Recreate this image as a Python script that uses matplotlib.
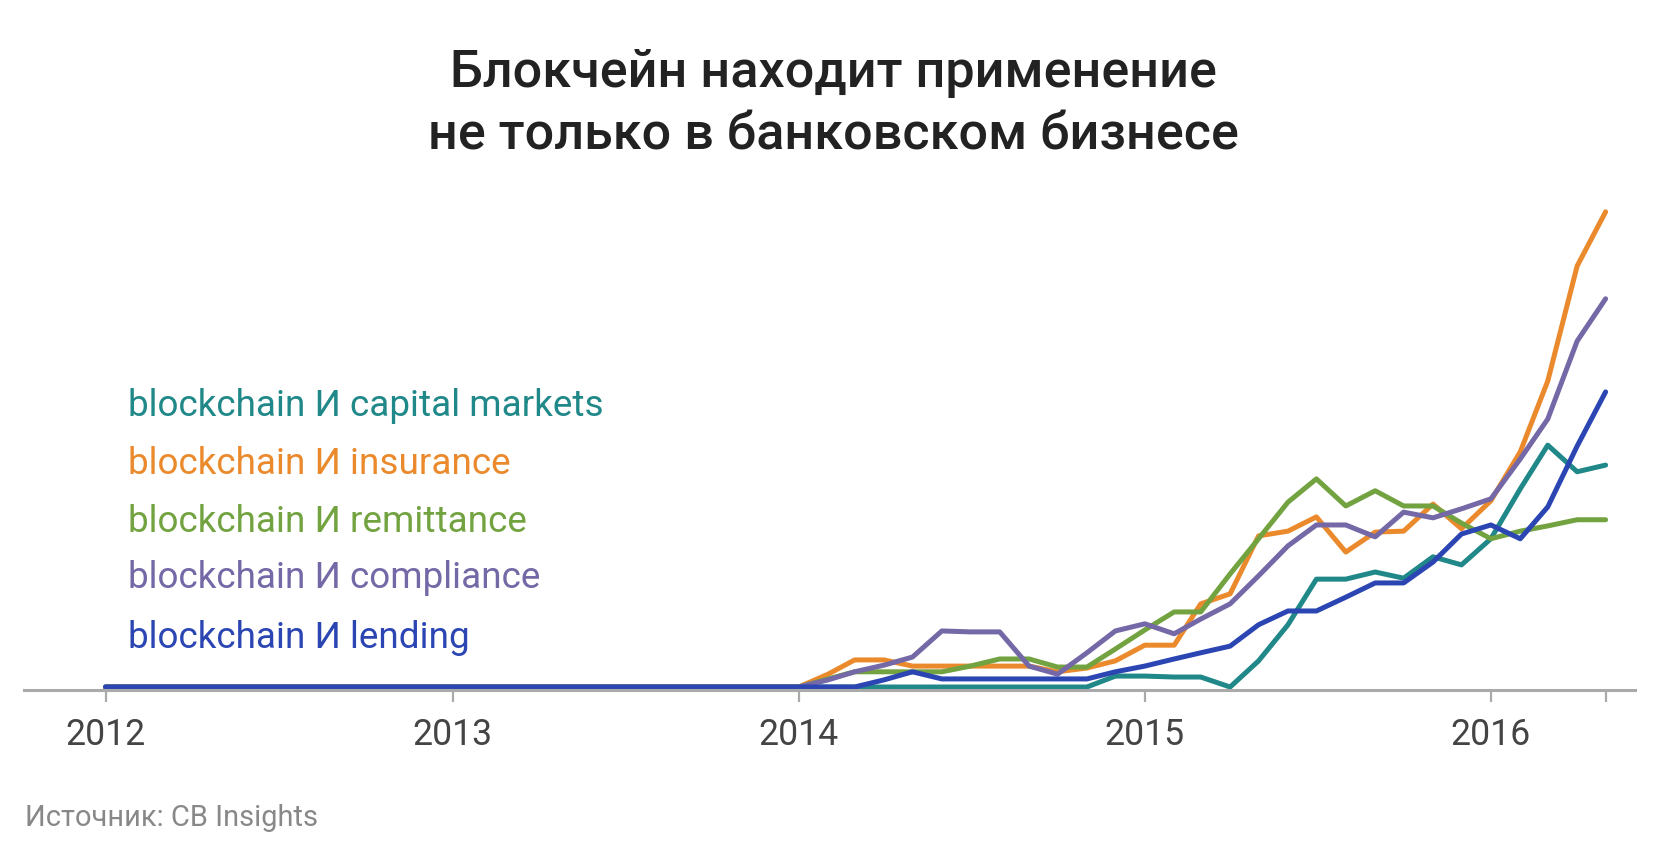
import numpy as np
import pandas as pd
import matplotlib
matplotlib.use('Agg')
import matplotlib.pyplot as plt
import matplotlib.dates as mdates

plt.rcParams['font.family'] = ['Roboto', 'DejaVu Sans']

#------------------------[data]------------------------#
months = pd.date_range('2012-01-01', '2016-05-01', freq='MS')

capital_markets = [0, 0, 0, 0, 0, 0, 0, 0, 0, 0, 0, 0,
                   0, 0, 0, 0, 0, 0, 0, 0, 0, 0, 0, 0,
                   0, 0, 0, 0, 0, 0, 0, 0, 0, 0, 0, 2.3,
                   2.3, 2.1, 2.1, 0, 5.5, 13.1, 22.7, 22.7, 24.2, 22.9, 27.4, 25.7,
                   31.2, 41.7, 50.9, 45.3, 46.7]
insurance = [0, 0, 0, 0, 0, 0, 0, 0, 0, 0, 0, 0,
             0, 0, 0, 0, 0, 0, 0, 0, 0, 0, 0, 0,
             0, 2.7, 5.7, 5.7, 4.4, 4.4, 4.4, 4.4, 4.4, 3.2, 4.0, 5.5,
             8.8, 8.8, 17.5, 19.6, 31.8, 32.8, 35.8, 28.4, 32.6, 32.8, 38.5, 33.3,
             39.2, 49.5, 64.4, 88.6, 100]
remittance = [0, 0, 0, 0, 0, 0, 0, 0, 0, 0, 0, 0,
              0, 0, 0, 0, 0, 0, 0, 0, 0, 0, 0, 0,
              0, 1.7, 3.2, 3.2, 3.2, 3.2, 4.4, 5.9, 5.9, 4.2, 4.2, 8.0,
              12.0, 15.8, 15.8, 23.8, 31.2, 38.9, 43.8, 38.1, 41.3, 38.1, 38.1, 34.5,
              31.2, 32.8, 33.9, 35.2, 35.2]
compliance = [0, 0, 0, 0, 0, 0, 0, 0, 0, 0, 0, 0,
              0, 0, 0, 0, 0, 0, 0, 0, 0, 0, 0, 0,
              0, 1.5, 3.2, 4.6, 6.3, 11.8, 11.6, 11.6, 4.4, 2.7, 7.2, 11.8,
              13.3, 11.2, 14.3, 17.5, 23.4, 29.7, 34.1, 34.1, 31.6, 36.8, 35.6, 37.5,
              39.6, 48.0, 56.4, 72.8, 81.7]
lending = [0, 0, 0, 0, 0, 0, 0, 0, 0, 0, 0, 0,
           0, 0, 0, 0, 0, 0, 0, 0, 0, 0, 0, 0,
           0, 0, 0, 1.5, 3.2, 1.7, 1.7, 1.7, 1.7, 1.7, 1.7, 3.2,
           4.4, 5.9, 7.2, 8.6, 13.1, 16.0, 16.0, 18.9, 21.9, 21.9, 26.3, 32.2,
           34.1, 31.2, 37.9, 50.7, 62.1]

labels = ['blockchain И capital markets', 'blockchain И insurance',
          'blockchain И remittance', 'blockchain И compliance',
          'blockchain И lending']
colors = ['#208888', '#EB8A2C', '#72A340', '#7468A6', '#2B46B3']
series = [capital_markets, insurance, remittance, compliance, lending]

tick_dates = pd.to_datetime(['2012-01-01', '2013-01-01', '2014-01-01',
                             '2015-01-01', '2016-01-01', '2016-05-01'])
tick_labels = ['2012', '2013', '2014', '2015', '2016', '']

#------------------------[plot]------------------------#
fig = plt.figure(figsize=(16.67, 8.53), dpi=100)
ax = fig.add_axes([24 / 1667, 162 / 853, (1635 - 24) / 1667, (691 - 200) / 853])

for vals, c in zip(series, colors):
    ax.plot(months, vals, color=c, lw=3.6, solid_capstyle='round',
            solid_joinstyle='round')

ax.set_xlim(months[0] - pd.Timedelta(days=86), months[-1] + pd.Timedelta(days=31))
ax.set_ylim(-0.63, 102.7)

for s in ['top', 'right', 'left']:
    ax.spines[s].set_visible(False)
ax.spines['bottom'].set_color('#aaaaaa')
ax.spines['bottom'].set_linewidth(2.2)
ax.set_yticks([])
ax.set_xticks(tick_dates)
ax.set_xticklabels(tick_labels)
ax.tick_params(axis='x', length=8.5, width=1.6, color='#aaaaaa',
               labelsize=25.7, labelcolor='#444444', pad=10)

# labels in place of a legend
for i, (lab, c) in enumerate(zip(labels, colors)):
    y = [416, 474, 532, 588, 648][i]
    fig.text(128 / 1667, 1 - y / 853, lab, color=c, fontsize=26.6,
             ha='left', va='baseline')

fig.text(0.5, 1 - 73 / 853, 'Блокчейн находит применение', ha='center',
         va='center', fontsize=37.5, fontweight='medium', color='#222222')
fig.text(0.5, 1 - 136 / 853, 'не только в банковском бизнесе', ha='center',
         va='center', fontsize=37.5, fontweight='medium', color='#222222')

fig.text(25 / 1667, 1 - 818 / 853, 'Источник: CB Insights', ha='left',
         va='center', fontsize=20.9, color='#888888')

fig.savefig('out.png', dpi=100)
